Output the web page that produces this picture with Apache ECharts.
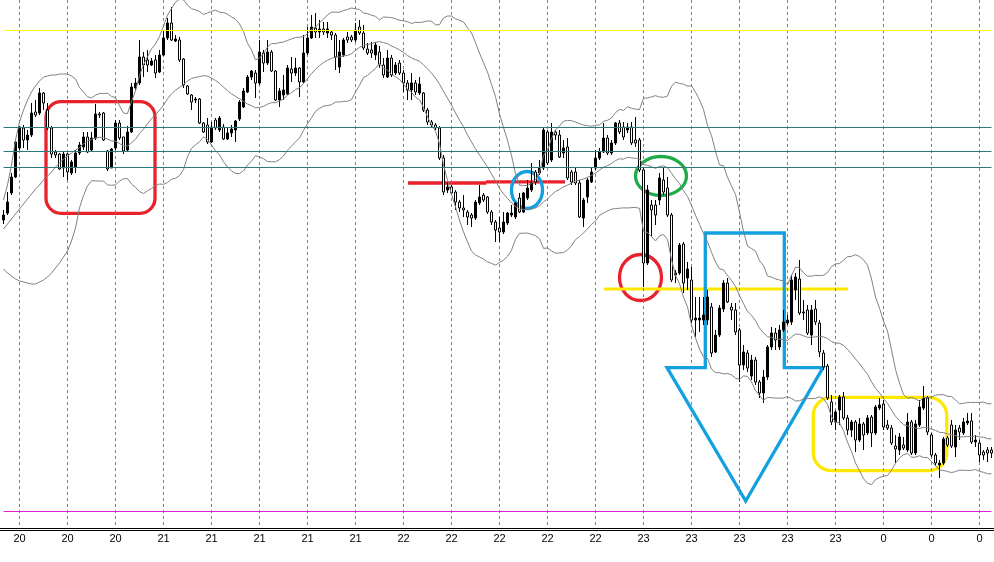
<!DOCTYPE html>
<html><head><meta charset="utf-8">
<script src="https://cdn.jsdelivr.net/npm/echarts@6/dist/echarts.min.js"></script>
<style>html,body{margin:0;padding:0;background:#fff}#c{width:994px;height:562px}</style>
</head><body><div id="c"></div>
<script>
// tick labels shown every 12 candles (starting at candle 4)
const tickLabels = ["20","20","20","21","21","21","21","21","22","22","22","22","22","23","23","23","23","23","0","0","0"];

// candle prices (points)
const openV = [310,317,337,353,382,402,390,395,418,417,437,420,402,378,376,362,376,357,363,377,
383,393,380,392,416,417,379,362,382,407,393,380,398,442,447,473,470,465,470,458,
475,492,507,489,490,471,444,435,430,431,407,405,388,410,400,403,391,397,400,411,
423,438,453,457,447,477,467,478,459,430,435,436,461,457,462,448,477,492,502,498,
501,497,498,495,463,475,493,493,490,503,497,481,480,475,478,465,453,472,457,467,
457,447,440,447,437,437,420,408,405,402,372,340,343,338,328,322,318,315,312,327,
335,333,318,308,302,298,307,315,313,332,318,332,340,358,357,362,398,370,398,395,
377,383,358,358,347,312,333,348,362,372,378,392,377,387,407,403,400,403,390,390,
360,267,325,325,330,350,342,315,255,257,286,252,250,210,210,210,210,223,178,195,
221,247,223,220,200,165,177,154,170,148,137,153,183,197,183,200,207,208,240,251,
218,220,195,221,207,177,164,128,108,120,133,112,100,108,90,106,97,113,97,122,
126,105,102,84,80,85,80,108,77,105,122,132,95,75,65,67,92,105,83,102,
97,107,109,88,87,78,80,80];
const closeV = [315,328,353,388,403,390,395,417,415,437,427,402,376,375,361,376,358,368,377,385,
393,378,392,416,415,390,361,381,407,392,379,398,443,447,473,465,465,469,457,475,
492,507,490,491,470,445,436,428,431,407,398,388,403,402,412,391,397,401,409,428,
439,453,459,447,478,467,478,459,430,439,440,462,457,462,448,477,492,503,498,501,
498,501,495,473,478,490,490,490,500,497,482,477,477,485,465,455,472,455,465,457,
447,440,447,438,446,420,408,405,402,372,338,343,337,328,322,320,313,312,328,333,
330,318,308,300,298,308,317,317,327,318,337,342,347,348,362,400,367,398,395,373,
382,352,348,347,313,330,350,358,372,378,392,377,387,407,398,393,403,387,387,360,
267,340,320,315,352,338,315,250,257,285,247,261,210,212,212,215,233,177,195,222,
247,228,220,198,165,178,162,170,148,137,153,183,197,190,200,208,210,250,253,217,
217,197,220,208,178,163,132,108,118,133,112,100,108,90,106,95,112,97,123,125,
103,102,87,81,93,82,108,77,106,123,132,98,75,67,67,91,85,84,100,98,
108,109,88,90,75,75,77,77];
const highV = [320,338,357,389,404,405,400,427,430,442,438,427,404,380,377,378,377,370,380,388,
398,398,398,426,418,418,380,382,410,410,393,404,447,452,490,478,480,472,475,480,
500,512,523,495,493,472,445,436,433,432,408,412,408,412,414,406,403,405,410,430,
442,455,460,460,490,480,490,480,460,442,455,465,473,472,463,495,503,515,517,510,
508,508,500,497,490,492,498,495,507,510,505,487,488,488,484,472,480,475,468,470,
460,450,457,450,453,438,422,410,407,404,375,348,345,340,330,335,320,317,330,345,
337,334,320,310,313,318,318,325,328,337,338,350,367,360,370,402,400,407,400,400,
390,392,360,363,350,332,352,362,380,382,407,395,390,408,410,408,407,408,413,392,
362,345,330,330,357,363,353,317,260,287,288,268,263,233,233,233,240,227,200,225,
250,252,227,227,202,185,180,175,173,150,160,185,203,202,205,220,215,255,257,270,
230,225,225,230,210,180,166,135,120,135,138,115,110,110,112,108,115,115,125,132,
130,110,105,95,97,93,117,110,110,130,144,134,97,77,70,93,94,110,105,105,
112,117,117,95,90,80,83,83];
const lowV = [306,315,335,352,380,382,380,393,413,415,420,400,372,372,360,353,350,355,357,375,
380,377,378,390,412,389,359,362,380,390,376,378,397,440,445,453,458,464,452,457,
474,490,489,488,468,442,435,420,427,406,397,386,387,400,398,390,390,393,388,409,
422,437,450,432,445,458,465,458,429,423,430,435,448,454,433,447,475,491,492,492,
495,492,490,460,457,473,487,488,488,495,480,475,472,470,462,452,452,453,455,455,
438,430,430,435,435,418,405,402,400,370,335,337,335,320,318,313,305,303,310,325,
328,316,305,288,288,296,305,313,311,317,317,330,338,345,355,360,365,368,390,372,
372,350,345,345,312,303,327,347,360,370,377,375,375,385,396,390,397,385,383,358,
243,265,294,305,325,335,313,248,247,255,237,240,207,193,198,205,205,173,177,193,
218,227,210,195,148,160,158,150,145,132,127,150,180,180,180,198,205,205,230,215,
210,195,185,205,173,160,130,105,100,105,110,95,93,78,88,80,95,83,95,120,
100,100,85,67,75,80,78,75,75,103,120,95,73,64,52,65,83,82,73,90,
95,105,86,83,68,70,68,72];

// Bollinger band values for the first 19 candles (the window is not yet full there)
const upperHead = [330,345,365,390,408,420,430,438,444,449,453,454,455,455,456,456,456,454,451];
const middleHead = [301,306,311,316,321,326,331,336,341,345,350,354,358,363,367,371,374,377,380];
const lowerHead = [261,257,254,251,249,248,247,246,246,248,250,253,257,262,267,273,279,289,302];

// horizontal price levels
const levelValues = [499.5, 402.5, 378.5, 362.5, 18.5];
const levelColors = ['#ffff00', '#2b7b7a', '#2b7b7a', '#2b7b7a', '#e020d0'];

const N = openV.length;
const cats = openV.map((_, i) => String(i));
const candles = openV.map((o, i) => [o, closeV[i], lowV[i], highV[i]]);

function bollinger(closes, period, k) {
  const up = [], mid = [], lo = [];
  for (let i = 0; i < closes.length; i++) {
    if (i < period - 1) { up.push(upperHead[i]); mid.push(middleHead[i]); lo.push(lowerHead[i]); continue; }
    let s = 0;
    for (let j = i - period + 1; j <= i; j++) s += closes[j];
    const m = s / period;
    let v = 0;
    for (let j = i - period + 1; j <= i; j++) v += (closes[j] - m) * (closes[j] - m);
    const sd = Math.sqrt(v / period);
    up.push(+(m + k * sd).toFixed(2)); mid.push(+m.toFixed(2)); lo.push(+(m - k * sd).toFixed(2));
  }
  return { up, mid, lo };
}
const bb = bollinger(closeV, 20, 2);

const RED = '#e8212b', BLUE = '#14a0e0', GREEN = '#1fab4a', YEL = '#ffe800';
const bandStyle = { color: '#808080', width: 1 };

const chart = echarts.init(document.getElementById('c'), null, { renderer: 'canvas' });
chart.setOption({
  animation: false,
  backgroundColor: '#ffffff',
  grid: { left: 3.5, right: 2.5, top: 0, height: 528, containLabel: false },
  xAxis: {
    type: 'category', data: cats, boundaryGap: false,
    axisLine: { show: false }, axisTick: { show: false },
    axisLabel: {
      interval: (i) => i % 12 === 4,
      formatter: (v, i) => tickLabels[(i - 4) / 12],
      color: '#000', fontFamily: 'Liberation Sans', fontSize: 11, margin: 5
    },
    splitLine: { show: true, interval: (i) => i % 12 === 4, lineStyle: { color: '#7b8390', type: [3, 3], width: 1 } }
  },
  yAxis: {
    type: 'value', min: 2, max: 530, show: true,
    axisLine: { show: false }, axisTick: { show: false }, axisLabel: { show: false }, splitLine: { show: false }
  },
  series: [
    {
      type: 'candlestick', data: candles, barWidth: 3,
      itemStyle: { color: '#000', color0: '#fff', borderColor: '#000', borderColor0: '#000', borderWidth: 1 },
      markLine: {
        silent: true, symbol: 'none', label: { show: false },
        lineStyle: { type: 'solid', width: 1 },
        data: levelValues.map((v, i) => ({ yAxis: v, lineStyle: { color: levelColors[i], type: 'solid', width: 1 } }))
      }
    },
    { type: 'line', data: bb.up, showSymbol: false, lineStyle: bandStyle, silent: true },
    { type: 'line', data: bb.mid, showSymbol: false, lineStyle: bandStyle, silent: true },
    { type: 'line', data: bb.lo, showSymbol: false, lineStyle: bandStyle, silent: true }
  ],
  graphic: [
    { type: 'line', silent: true, shape: { x1: 0, y1: 528.5, x2: 994, y2: 528.5 }, style: { stroke: '#000', lineWidth: 1 } },
    { type: 'line', silent: true, shape: { x1: 0, y1: 530.5, x2: 994, y2: 530.5 }, style: { stroke: '#000', lineWidth: 1 } },
    { type: 'rect', silent: true, shape: { x: 46, y: 101.7, width: 109, height: 111.6, r: 15 }, style: { fill: 'transparent', stroke: RED, lineWidth: 3.3 } },
    { type: 'line', silent: true, shape: { x1: 408, y1: 183, x2: 486.5, y2: 183 }, style: { stroke: RED, lineWidth: 3.3 } },
    { type: 'line', silent: true, shape: { x1: 486, y1: 181.8, x2: 565, y2: 181.8 }, style: { stroke: RED, lineWidth: 3.3 } },
    { type: 'ellipse', silent: true, shape: { cx: 527, cy: 190, rx: 15.5, ry: 18.5 }, style: { fill: 'transparent', stroke: BLUE, lineWidth: 3.3 } },
    { type: 'ellipse', silent: true, shape: { cx: 661, cy: 176, rx: 25.5, ry: 19.5 }, style: { fill: 'transparent', stroke: GREEN, lineWidth: 3.3 } },
    { type: 'ellipse', silent: true, shape: { cx: 640.5, cy: 277.5, rx: 21, ry: 23 }, style: { fill: 'transparent', stroke: RED, lineWidth: 3.3 } },
    { type: 'line', silent: true, shape: { x1: 604, y1: 289, x2: 848, y2: 289 }, style: { stroke: YEL, lineWidth: 3 } },
    { type: 'polygon', silent: true, shape: { points: [[705.3, 233], [784.3, 233], [784.3, 367.7], [823, 367.7], [745.7, 501], [667, 367.7], [705.3, 367.7]] }, style: { fill: 'transparent', stroke: BLUE, lineWidth: 3.3 } },
    { type: 'rect', silent: true, shape: { x: 813.3, y: 397.3, width: 133.4, height: 73.4, r: 18 }, style: { fill: 'transparent', stroke: YEL, lineWidth: 3.3 } }
  ]
});
</script>
</body></html>
